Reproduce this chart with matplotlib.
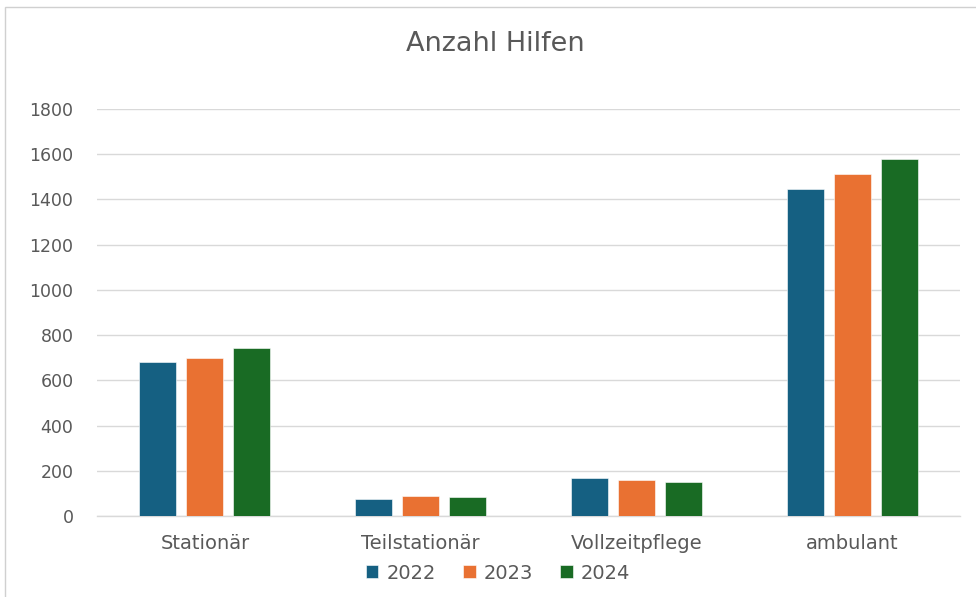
import matplotlib.pyplot as plt
import numpy as np
from matplotlib.patches import Rectangle

# Anzahl Hilfen je Hilfeart und Jahr
kategorien = ['Stationär', 'Teilstationär', 'Vollzeitpflege', 'ambulant']
jahre = ['2022', '2023', '2024']
werte_2022 = [682, 77, 166, 1447]
werte_2023 = [697, 90, 157, 1514]
werte_2024 = [742, 84, 151, 1581]
farben = ['#156082', '#E97132', '#196B24']

plt.rcParams['font.family'] = ['DejaVu Sans']
grau = '#595959'

fig = plt.figure(figsize=(9.76, 5.97), dpi=100)
ax = fig.add_axes([0.0994, 0.1357, 0.8842, 0.6817])

x = np.arange(len(kategorien))
breite = 0.172
schritt = 0.218
for i, (werte, jahr) in enumerate(zip([werte_2022, werte_2023, werte_2024], jahre)):
    ax.bar(x + (i - 1) * schritt, werte, width=breite, color=farben[i],
           label=jahr, zorder=3, edgecolor='white', linewidth=0.4)

ax.set_xlim(-0.5, len(kategorien) - 0.5)
ax.set_ylim(0, 1800)
ax.set_yticks(range(0, 1801, 200))
ax.yaxis.grid(True, color='#d9d9d9', linewidth=1.0, zorder=0)
ax.set_axisbelow(True)
for s in ['top', 'right', 'left']:
    ax.spines[s].set_visible(False)
ax.spines['bottom'].set_color('#d9d9d9')
ax.spines['bottom'].set_linewidth(1.0)

ax.set_xticks(x)
ax.set_xticklabels(kategorien)
ax.tick_params(axis='x', length=0, pad=13, labelsize=14, labelcolor=grau)
ax.tick_params(axis='y', length=0, pad=17, labelsize=12.5, labelcolor=grau)

fig.text(0.507, 0.927, 'Anzahl Hilfen', ha='center', va='center',
         fontsize=19.5, color=grau)

leg = fig.legend(loc='center', bbox_to_anchor=(0.51, 0.04), ncol=3, frameon=False,
                 fontsize=14, handlelength=0.65, handleheight=0.65,
                 handletextpad=0.4, columnspacing=1.4)
for t in leg.get_texts():
    t.set_color(grau)

# dünner Rahmen um das Diagramm
fig.patches.append(Rectangle((0.005, -0.01), 1.1, 0.998, transform=fig.transFigure,
                             fill=False, edgecolor='#d0d0d0', linewidth=1.0))

fig.savefig('out.png', dpi=100)
